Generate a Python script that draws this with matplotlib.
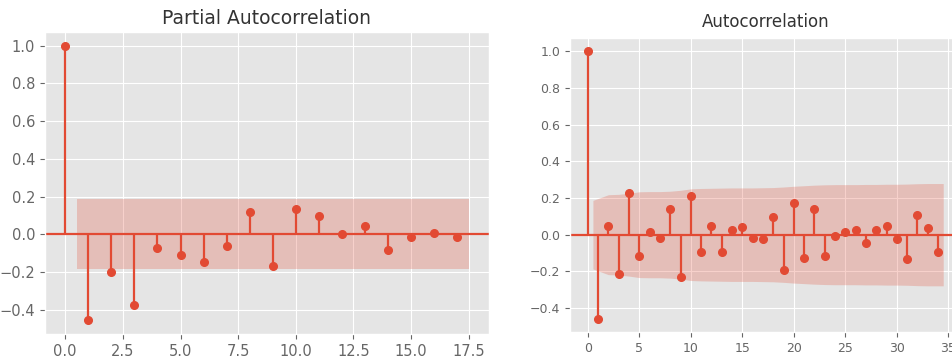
import numpy as np
import matplotlib
matplotlib.use("Agg")
import matplotlib.pyplot as plt

plt.style.use("ggplot")

# Werte
pacf_lags = np.arange(18)
pacf_vals = [1.0, -0.456, -0.199, -0.375, -0.074, -0.111, -0.148, -0.060,
             0.120, -0.169, 0.132, 0.095, -0.001, 0.044, -0.081, -0.014,
             0.007, -0.014]
pacf_band = 0.185  # halbe Breite Konfidenzband

acf_lags = np.arange(35)
acf_vals = [1.0, -0.458, 0.050, -0.214, 0.227, -0.119, 0.016, -0.016,
            0.139, -0.229, 0.213, -0.097, 0.050, -0.097, 0.027, 0.041,
            -0.016, -0.023, 0.094, -0.191, 0.175, -0.126, 0.139, -0.119,
            -0.009, 0.016, 0.027, -0.045, 0.023, 0.049, -0.023, -0.133,
            0.110, 0.034, -0.097]
acf_band = [0.187, 0.218, 0.220, 0.226, 0.234, 0.235, 0.235, 0.237, 0.242,
            0.250, 0.252, 0.253, 0.254, 0.255, 0.255, 0.255, 0.256, 0.257,
            0.260, 0.264, 0.267, 0.270, 0.272, 0.273, 0.273, 0.273, 0.274,
            0.274, 0.275, 0.275, 0.276, 0.278, 0.279, 0.279]

W, H = 952, 363
fig = plt.figure(figsize=(W / 100, H / 100), dpi=100)


def corr_plot(ax, lags, vals, band, title, title_size, tick_size, pad):
    lags = np.asarray(lags, dtype=float)
    vals = np.asarray(vals)
    ax.vlines(lags, [0], vals, color="#E24A33", lw=1.6)
    ax.axhline(0, color="#E24A33", lw=1.6)
    ax.plot(lags, vals, "o", color="#E24A33", markersize=5.5)
    band = np.broadcast_to(np.asarray(band, dtype=float), lags[1:].shape)
    xb = lags[1:].copy()
    xb[0] -= 0.5
    xb[-1] += 0.5
    ax.fill_between(xb, -band, band, color="#E24A33", alpha=0.25, lw=0)
    ax.margins(0.05)
    ax.set_title(title, fontsize=title_size, color="#333333", pad=pad)
    ax.tick_params(labelsize=tick_size, colors="#666666")


ax1 = fig.add_axes([45 / W, 1 - 334 / H, 444 / W, 302 / H])
corr_plot(ax1, pacf_lags, pacf_vals, pacf_band, "Partial Autocorrelation",
          13.5, 10.5, 6)

ax2 = fig.add_axes([570 / W, 1 - 332 / H, 391 / W, 294 / H])
corr_plot(ax2, acf_lags, acf_vals, acf_band, "Autocorrelation", 12, 9, 8)

fig.savefig("out.png", dpi=100)
